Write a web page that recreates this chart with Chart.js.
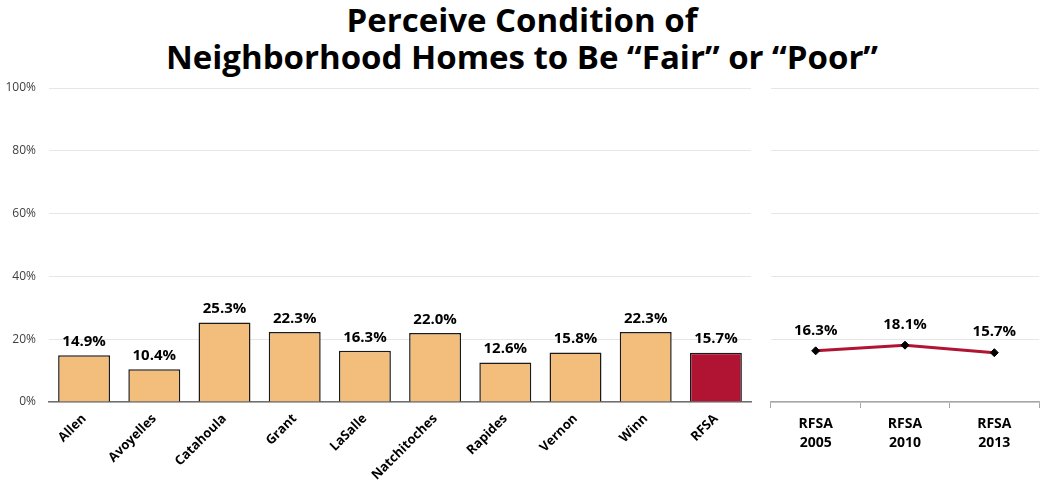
<!DOCTYPE html>
<html>
<head>
<meta charset="utf-8">
<script src="https://cdn.jsdelivr.net/npm/chart.js@4/dist/chart.umd.min.js"></script>
<style>
  html, body { margin: 0; padding: 0; background: #ffffff; }
  body { width: 1044px; height: 484px; position: relative; overflow: hidden; font-family: "Open Sans", "Noto Sans", sans-serif; }
  #title { position: absolute; left: 0; top: 1px; width: 1044px; text-align: center; font-weight: bold; font-size: 33px; line-height: 37px; color: #000; }
  #leftWrap { position: absolute; left: 0; top: 80px; width: 755px; height: 404px; }
  #rightWrap { position: absolute; left: 760px; top: 80px; width: 284px; height: 404px; }
</style>
</head>
<body>
<div id="title">Perceive Condition of<br>Neighborhood Homes to Be “Fair” or “Poor”</div>
<div id="leftWrap"><canvas id="left" width="755" height="404"></canvas></div>
<div id="rightWrap"><canvas id="right" width="284" height="404"></canvas></div>
<script>
const parishes = ["Allen", "Avoyelles", "Catahoula", "Grant", "LaSalle", "Natchitoches", "Rapides", "Vernon", "Winn", "RFSA"];
const parishValues = [14.9, 10.4, 25.3, 22.3, 16.3, 22.0, 12.6, 15.8, 22.3, 15.7];
const trendLabels = [["RFSA", "2005"], ["RFSA", "2010"], ["RFSA", "2013"]];
const trendValues = [16.3, 18.1, 15.7];
const yTicks = [0, 20, 40, 60, 80, 100];

const FONT = "'Open Sans', 'Noto Sans', sans-serif";
const barColors = parishes.map(p => p === "RFSA" ? "#b01432" : "#f3bd7c");

const valueLabels = {
  id: "valueLabels",
  afterDatasetsDraw(chart) {
    const ctx = chart.ctx;
    ctx.save();
    ctx.font = "bold 15px " + FONT;
    ctx.fillStyle = "#000";
    ctx.textAlign = "center";
    ctx.textBaseline = "bottom";
    chart.data.datasets.forEach((ds, di) => {
      const meta = chart.getDatasetMeta(di);
      meta.data.forEach((el, i) => {
        const off = chart.config.type === "line" ? 13 : 6;
        ctx.fillText(ds.data[i].toFixed(1) + "%", el.x, el.y - off);
      });
    });
    ctx.restore();
  }
};

Chart.defaults.font.family = FONT;
Chart.defaults.animation = false;

new Chart(document.getElementById("left"), {
  type: "bar",
  data: {
    labels: parishes,
    datasets: [{
      data: parishValues,
      backgroundColor: barColors,
      borderColor: "#1a1a1a",
      borderWidth: 1.5,
      categoryPercentage: 1.0,
      barPercentage: 0.74
    }]
  },
  options: {
    responsive: false,
    layout: { padding: { top: 8, right: 4, left: 0, bottom: 0 } },
    plugins: { legend: { display: false }, tooltip: { enabled: false } },
    scales: {
      x: {
        grid: { display: false, drawTicks: false },
        border: { display: true, color: "#6f6f6f", width: 1.5 },
        ticks: {
          color: "#000",
          font: { size: 13, weight: "bold" },
          minRotation: 45, maxRotation: 45,
          autoSkip: false,
          padding: 9
        },
        afterFit(s) { s.height = 82; }
      },
      y: {
        min: 0, max: 100,
        afterBuildTicks(s) { s.ticks = yTicks.map(v => ({ value: v })); },
        grid: { color: "#e6e6e6", lineWidth: 1, drawTicks: true, tickLength: 13, tickColor: "rgba(0,0,0,0)" },
        border: { display: false },
        ticks: {
          color: "#404040",
          font: { size: 12 },
          padding: 0,
          callback: v => v + "%"
        },
        afterFit(s) { s.width = 49; }
      }
    }
  },
  plugins: [valueLabels]
});

new Chart(document.getElementById("right"), {
  type: "line",
  data: {
    labels: trendLabels,
    datasets: [{
      data: trendValues,
      borderColor: "#b01432",
      borderWidth: 3,
      pointStyle: "rectRot",
      pointRadius: 4,
      pointBackgroundColor: "#000",
      pointBorderColor: "#000",
      pointBorderWidth: 1,
      tension: 0
    }]
  },
  options: {
    responsive: false,
    layout: { padding: { top: 8, right: 0, left: 0, bottom: 0 } },
    plugins: { legend: { display: false }, tooltip: { enabled: false } },
    scales: {
      x: {
        offset: true,
        grid: { offset: true, drawOnChartArea: false, drawTicks: true, tickLength: 6, color: "#a6a6a6" },
        border: { display: true, color: "#a6a6a6", width: 1.5 },
        ticks: {
          color: "#000",
          font: { size: 14, weight: "bold", lineHeight: 1.35 },
          maxRotation: 0,
          padding: 7
        },
        afterFit(s) { s.height = 82; }
      },
      y: {
        min: 0, max: 100,
        afterBuildTicks(s) { s.ticks = yTicks.map(v => ({ value: v })); },
        grid: { color: "#e6e6e6", lineWidth: 1, drawTicks: false },
        border: { display: false },
        ticks: { display: false },
        afterFit(s) { s.width = 11; }
      }
    }
  },
  plugins: [valueLabels]
});
</script>
</body>
</html>
